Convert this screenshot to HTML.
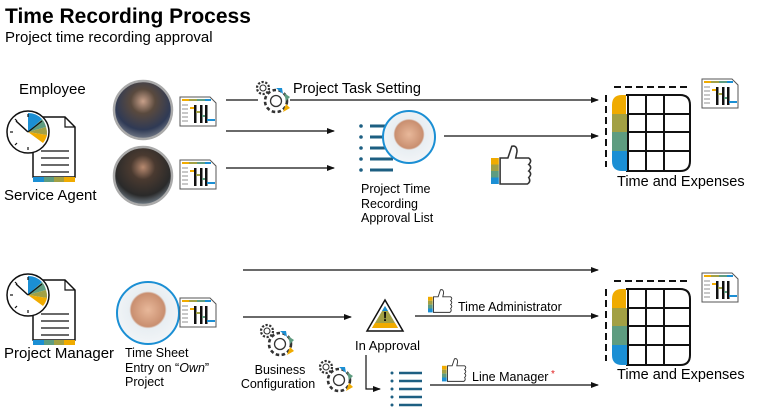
<!DOCTYPE html>
<html><head><meta charset="utf-8"><style>
html,body{margin:0;padding:0;background:#fff;}
svg{display:block;font-family:"Liberation Sans",Arial,sans-serif;}
</style></head><body>
<svg width="764" height="411" viewBox="0 0 764 411" xmlns="http://www.w3.org/2000/svg">
<defs>
<marker id="ar" markerWidth="8" markerHeight="8" refX="7" refY="4" orient="auto" markerUnits="userSpaceOnUse">
<path d="M0,1 L8,4 L0,7 Z" fill="#111"/></marker>
<g id="clockdoc">
<path d="M30,10 L62,10 L72,20 L72,70 L30,70 Z" fill="#fff" stroke="#111" stroke-width="1.5"/>
<path d="M62,10 L62,20 L72,20" fill="none" stroke="#111" stroke-width="1.2"/>
<g stroke="#111" stroke-width="1.3"><line x1="38" y1="44" x2="66" y2="44"/><line x1="38" y1="51" x2="66" y2="51"/><line x1="38" y1="58" x2="66" y2="58"/><line x1="38" y1="65" x2="66" y2="65"/></g>
<rect x="30" y="70" width="11" height="5" fill="#1b8fd4"/><rect x="41" y="70" width="10" height="5" fill="#5e9c80"/><rect x="51" y="70" width="10" height="5" fill="#a2a044"/><rect x="61" y="70" width="11" height="5" fill="#f0ab00"/>
<circle cx="25" cy="25" r="21" fill="#fff" stroke="#111" stroke-width="1.5"/>
<path d="M25,25 L25,6 A19,19 0 0 1 39,12 Z" fill="#1b8fd4"/>
<path d="M25,25 L39,12 A19,19 0 0 1 43,20 Z" fill="#5e9c80"/>
<path d="M25,25 L43,20 A19,19 0 0 1 44,28 Z" fill="#a2a044"/>
<path d="M25,25 L44,28 A19,19 0 0 1 40,36 Z" fill="#f0ab00"/>
<g stroke="#111" stroke-width="1.2"><line x1="25" y1="7" x2="25" y2="10"/><line x1="7" y1="25" x2="10" y2="25"/><line x1="25" y1="40" x2="25" y2="43"/><line x1="12" y1="12" x2="14" y2="14"/><line x1="12" y1="38" x2="14" y2="36"/></g>
<line x1="25" y1="25" x2="13" y2="14" stroke="#111" stroke-width="1.5"/>
<line x1="25" y1="25" x2="39" y2="14" stroke="#111" stroke-width="1.2"/>
</g>
<g id="doc">
<path d="M0,0 L30,0 L36,6 L36,29 L0,29 Z" fill="#fff" stroke="#555" stroke-width="1"/>
<rect x="2" y="2" width="7" height="2" fill="#f0ab00"/><rect x="9" y="2" width="8" height="2" fill="#a2a044"/><rect x="17" y="2" width="8" height="2" fill="#5e9c80"/><rect x="25" y="2" width="6" height="2" fill="#1b8fd4"/>
<g stroke="#777" stroke-width="0.8"><line x1="2" y1="8" x2="8" y2="8"/><line x1="2" y1="12" x2="8" y2="12"/><line x1="2" y1="16" x2="8" y2="16"/><line x1="2" y1="20" x2="8" y2="20"/><line x1="2" y1="24" x2="8" y2="24"/></g>
<rect x="14" y="8" width="2.5" height="18" fill="#111"/><rect x="20" y="8" width="2.5" height="18" fill="#111"/><rect x="25" y="8" width="2.5" height="18" fill="#111"/>
<rect x="10" y="10" width="4" height="2" fill="#f0ab00"/><rect x="16" y="14" width="4" height="2" fill="#a2a044"/><rect x="22" y="18" width="3" height="2" fill="#5e9c80"/><rect x="27" y="22" width="8" height="2" fill="#1b8fd4"/>
</g>
<g id="table">
<path d="M8,0 L82,0 M0,8 L0,80" stroke="#111" stroke-width="2" stroke-dasharray="7,4" fill="none"/>
<path d="M20,8 L74,8 Q84,8 84,18 L84,74 Q84,84 74,84 L20,84" fill="#fff" stroke="#111" stroke-width="2"/>
<path d="M20,8 L20,28 L6,28 L6,18 Q6,8 16,8 Z" fill="#f0ab00"/>
<rect x="6" y="27" width="16" height="19" fill="#a2a044"/>
<rect x="6" y="45" width="16" height="19" fill="#5e9c80"/>
<path d="M6,64 L22,64 L22,84 L16,84 Q6,84 6,74 Z" fill="#1b8fd4"/>
<g stroke="#111" stroke-width="2"><line x1="22" y1="8" x2="22" y2="84"/><line x1="40" y1="8" x2="40" y2="84"/><line x1="58" y1="8" x2="58" y2="84"/><line x1="22" y1="27" x2="84" y2="27"/><line x1="22" y1="45" x2="84" y2="45"/><line x1="22" y1="64" x2="84" y2="64"/></g>
</g>
<g id="gear">
<circle cx="9" cy="9" r="6" fill="#fff" stroke="#333" stroke-width="2.2" stroke-dasharray="2.2,1.6"/><circle cx="9" cy="9" r="3" fill="none" stroke="#333" stroke-width="1.1"/>
<circle cx="22" cy="22" r="11" fill="#fff" stroke="#333" stroke-width="2.6" stroke-dasharray="3.5,2.5"/><circle cx="22" cy="22" r="5.5" fill="none" stroke="#333" stroke-width="1.3"/>
<path d="M22,9 L28,9 L29,15 Z" fill="#1b8fd4"/><path d="M30,14 L36,18 L32,22 Z" fill="#5e9c80"/><path d="M32,25 L36,29 L29,33 Z" fill="#f0ab00"/>
</g>
<g id="thumb">
<rect x="0" y="10" width="6" height="5" fill="#f0ab00"/><rect x="0" y="15" width="6" height="5" fill="#a2a044"/><rect x="0" y="20" width="6" height="5" fill="#5e9c80"/><rect x="0" y="25" width="6" height="5" fill="#1b8fd4"/>
<path d="M7,10 L13,10 L16,1 Q20,0 20,5 L19,10 L29,10 Q32,12 29,15 Q32,17 29,20 Q32,22 29,25 Q31,28 28,30 L7,30 Z" fill="#fff" stroke="#333" stroke-width="1.2"/>
</g>
<g id="list">
<g fill="#1d5f82"><circle cx="0" cy="0" r="1.8"/><circle cx="0" cy="11" r="1.8"/><circle cx="0" cy="22" r="1.8"/><circle cx="0" cy="33" r="1.8"/><circle cx="0" cy="44" r="1.8"/></g>
<g stroke="#1d5f82" stroke-width="3"><line x1="9" y1="0" x2="32" y2="0"/><line x1="9" y1="11" x2="32" y2="11"/><line x1="9" y1="22" x2="32" y2="22"/><line x1="9" y1="33" x2="32" y2="33"/><line x1="9" y1="44" x2="32" y2="44"/></g>
</g>
<g id="list2">
<g fill="#1d5f82"><circle cx="0" cy="0" r="1.5"/><circle cx="0" cy="8" r="1.5"/><circle cx="0" cy="16" r="1.5"/><circle cx="0" cy="24" r="1.5"/><circle cx="0" cy="32" r="1.5"/></g>
<g stroke="#1d5f82" stroke-width="2.5"><line x1="7" y1="0" x2="30" y2="0"/><line x1="7" y1="8" x2="30" y2="8"/><line x1="7" y1="16" x2="30" y2="16"/><line x1="7" y1="24" x2="30" y2="24"/><line x1="7" y1="32" x2="30" y2="32"/></g>
</g>
<radialGradient id="face" cx="0.5" cy="0.45" r="0.6"><stop offset="0" stop-color="#e8b89a"/><stop offset="0.45" stop-color="#c98f70"/><stop offset="0.5" stop-color="#e8eef2"/><stop offset="1" stop-color="#f4f6f8"/></radialGradient>
<radialGradient id="p1" cx="0.5" cy="0.35" r="0.7"><stop offset="0" stop-color="#c8a08a"/><stop offset="0.3" stop-color="#5a4a3e"/><stop offset="0.7" stop-color="#2f3a55"/><stop offset="1" stop-color="#8a8f98"/></radialGradient>
<radialGradient id="p2" cx="0.5" cy="0.35" r="0.7"><stop offset="0" stop-color="#b88a70"/><stop offset="0.3" stop-color="#4a3a30"/><stop offset="0.7" stop-color="#2a2a2a"/><stop offset="1" stop-color="#8a9aa8"/></radialGradient>
</defs>

<text x="5" y="23" font-size="21" font-weight="bold" fill="#000">Time Recording Process</text>
<text x="5" y="42" font-size="15" fill="#000">Project time recording approval</text>

<!-- top section -->
<text x="19" y="94" font-size="15">Employee</text>
<use href="#clockdoc" x="3" y="107"/>
<text x="4" y="200" font-size="15">Service Agent</text>

<circle cx="143" cy="110" r="29" fill="url(#p1)" stroke="#aaa" stroke-width="2.5"/>
<circle cx="143" cy="176" r="29" fill="url(#p2)" stroke="#aaa" stroke-width="2.5"/>
<use href="#doc" x="180" y="97"/>
<use href="#doc" x="180" y="160"/>

<line x1="226" y1="100" x2="258" y2="100" stroke="#111" stroke-width="1.3"/>
<use href="#gear" x="254" y="79"/>
<line x1="290" y1="100" x2="598" y2="100" stroke="#111" stroke-width="1.3" marker-end="url(#ar)"/>
<text x="293" y="93" font-size="14.5">Project Task Setting</text>
<line x1="226" y1="131" x2="334" y2="131" stroke="#111" stroke-width="1.3" marker-end="url(#ar)"/>
<line x1="226" y1="168" x2="334" y2="168" stroke="#111" stroke-width="1.3" marker-end="url(#ar)"/>

<use href="#list" x="361" y="126"/>
<circle cx="409" cy="137" r="26" fill="url(#face)" stroke="#1b8fd4" stroke-width="2"/>
<text font-size="12.5"><tspan x="361" y="193">Project Time</tspan><tspan x="361" y="208">Recording</tspan><tspan x="361" y="222">Approval List</tspan></text>
<line x1="444" y1="136" x2="598" y2="136" stroke="#111" stroke-width="1.3" marker-end="url(#ar)"/>
<use href="#thumb" transform="translate(491,145) scale(1.3)"/>

<use href="#table" x="606" y="87"/>
<use href="#doc" x="702" y="79"/>
<text x="617" y="186" font-size="14.5">Time and Expenses</text>

<!-- bottom section -->
<use href="#clockdoc" x="3" y="270"/>
<text x="4" y="358" font-size="15">Project Manager</text>
<circle cx="148" cy="313" r="31" fill="url(#face)" stroke="#1b8fd4" stroke-width="2"/>
<use href="#doc" x="180" y="298"/>
<text font-size="12.5"><tspan x="125" y="357">Time Sheet</tspan><tspan x="125" y="372">Entry on “<tspan font-style="italic">Own</tspan>”</tspan><tspan x="125" y="386">Project</tspan></text>

<line x1="243" y1="270" x2="598" y2="270" stroke="#111" stroke-width="1.3" marker-end="url(#ar)"/>
<line x1="243" y1="317" x2="351" y2="317" stroke="#111" stroke-width="1.3" marker-end="url(#ar)"/>
<use href="#gear" x="258" y="322"/>
<text font-size="12.5" text-anchor="middle"><tspan x="280" y="374">Business</tspan><tspan x="278" y="388">Configuration</tspan></text>
<use href="#gear" x="317" y="358"/>

<path d="M385,300 L403,331 L367,331 Z" fill="#fff" stroke="#111" stroke-width="1.5"/>
<path d="M385,306 L398,328 L372,328 Z" fill="#a2a044"/>
<path d="M385,306 L388,311 L382,311 Z" fill="#1b8fd4"/>
<path d="M375,323 L395,323 L398,328 L372,328 Z" fill="#f0ab00"/>
<text x="385" y="321" font-size="13" font-weight="bold" text-anchor="middle">!</text>
<text x="355" y="350" font-size="13">In Approval</text>
<path d="M366,355 L366,389 L380,389" fill="none" stroke="#111" stroke-width="1.2" marker-end="url(#ar)"/>
<use href="#list2" x="392" y="373"/>

<use href="#thumb" transform="translate(428,289) scale(0.78)"/>
<text x="458" y="311" font-size="12.5">Time Administrator</text>
<line x1="415" y1="316" x2="598" y2="316" stroke="#111" stroke-width="1.3" marker-end="url(#ar)"/>
<use href="#thumb" transform="translate(442,358) scale(0.78)"/>
<text x="472" y="381" font-size="12.5">Line Manager</text>
<text x="551" y="377" font-size="10" fill="#e02020">*</text>
<line x1="430" y1="385" x2="598" y2="385" stroke="#111" stroke-width="1.3" marker-end="url(#ar)"/>

<use href="#table" x="606" y="281"/>
<use href="#doc" x="702" y="273"/>
<text x="617" y="379" font-size="14.5">Time and Expenses</text>
</svg>
</body></html>
